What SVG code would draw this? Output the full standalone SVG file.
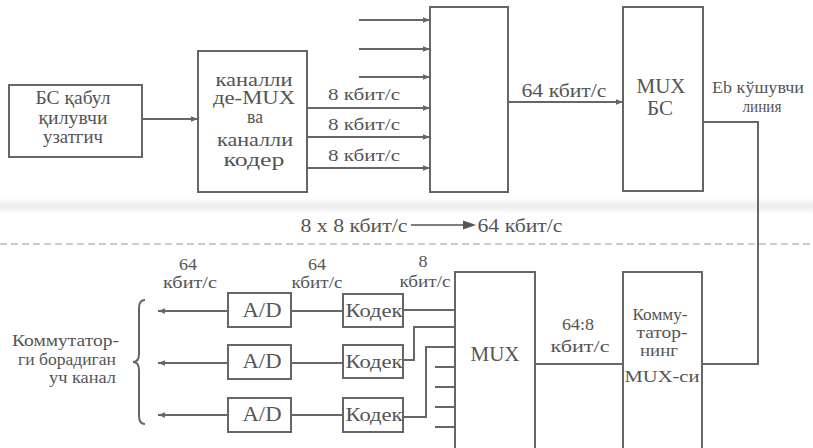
<svg xmlns="http://www.w3.org/2000/svg" width="813" height="448" viewBox="0 0 813 448">
<defs>
<marker id="ah" viewBox="0 0 10 10" refX="10" refY="5" markerWidth="7" markerHeight="7" markerUnits="userSpaceOnUse" orient="auto"><path d="M0,1 L10,5 L0,9 z" fill="#666"/></marker>
<linearGradient id="band" x1="0" y1="0" x2="0" y2="1"><stop offset="0" stop-color="#fff"/><stop offset="0.5" stop-color="#ececec"/><stop offset="1" stop-color="#fff"/></linearGradient>
</defs>
<style>
.b{fill:#fff;stroke:#666;stroke-width:2}
.l{fill:none;stroke:#666;stroke-width:2}
.a{fill:none;stroke:#666;stroke-width:2;marker-end:url(#ah)}
</style>
<rect x="0" y="0" width="813" height="448" fill="#fff"/>
<rect x="0" y="198" width="813" height="16" fill="url(#band)"/>
<line x1="0" y1="244" x2="813" y2="244" stroke="#999" stroke-width="1.2" stroke-dasharray="7,4"/>
<g id="connectors">
<line class="a" x1="142" y1="119" x2="198" y2="119"/>
<line class="a" x1="359" y1="20" x2="430" y2="20"/>
<line class="a" x1="359" y1="49" x2="430" y2="49"/>
<line class="a" x1="359" y1="77" x2="430" y2="77"/>
<line class="a" x1="307" y1="108" x2="430" y2="108"/>
<line class="a" x1="307" y1="137" x2="430" y2="137"/>
<line class="a" x1="307" y1="168" x2="430" y2="168"/>
<line class="a" x1="508" y1="102" x2="623" y2="102"/>
<polyline class="l" points="703,122 758,122 758,364 702,364"/>
<line class="l" x1="535" y1="364" x2="623" y2="364"/>
<line class="a" x1="228" y1="311" x2="158" y2="311"/>
<line class="a" x1="228" y1="363" x2="158" y2="363"/>
<line class="a" x1="228" y1="415" x2="158" y2="415"/>
<line class="l" x1="291" y1="311" x2="343" y2="311"/>
<line class="l" x1="291" y1="363" x2="343" y2="363"/>
<line class="l" x1="291" y1="415" x2="343" y2="415"/>
<line class="l" x1="403" y1="310" x2="455" y2="310"/>
<polyline class="l" points="403,360 414,360 414,327 455,327"/>
<polyline class="l" points="403,417 426,417 426,347 455,347"/>
<line class="l" x1="435" y1="367" x2="455" y2="367"/>
<line class="l" x1="435" y1="387" x2="455" y2="387"/>
<line class="l" x1="435" y1="407" x2="455" y2="407"/>
<line class="l" x1="435" y1="427" x2="455" y2="427"/>
<path class="l" stroke-width="1.5" d="M145,300 Q139,300 139,308 L139,354 Q139,362 133,362 Q139,362 139,370 L139,416 Q139,424 145,424"/>
<line x1="411" y1="225" x2="466" y2="225" stroke="#555" stroke-width="1.5"/>
<path d="M476,225 L463,220.5 L463,229.5 z" fill="#555"/>
</g>
<g font-family="Liberation Serif" fill="#555" text-anchor="middle">
<g id="bs">
<rect class="b" x="9" y="85" width="133" height="72"/>
<text font-size="19" x="73" y="104" textLength="75" lengthAdjust="spacingAndGlyphs">БС қабул</text>
<text font-size="19" x="73" y="124" textLength="69" lengthAdjust="spacingAndGlyphs">қилувчи</text>
<text font-size="19" x="73" y="143" textLength="60" lengthAdjust="spacingAndGlyphs">узатгич</text>
</g>
<g id="demux">
<rect class="b" x="198" y="51" width="109" height="141"/>
<text font-size="18" x="254" y="86" textLength="77" lengthAdjust="spacingAndGlyphs">каналли</text>
<text font-size="19" x="254" y="104" textLength="82" lengthAdjust="spacingAndGlyphs">де-MUX</text>
<text font-size="18" x="255" y="123" textLength="16" lengthAdjust="spacingAndGlyphs">ва</text>
<text font-size="18" x="255" y="146" textLength="76" lengthAdjust="spacingAndGlyphs">каналли</text>
<text font-size="18" x="254" y="166" textLength="61" lengthAdjust="spacingAndGlyphs">кодер</text>
</g>
<g id="mid">
<rect class="b" x="430" y="7" width="78" height="185"/>
</g>
<g id="muxbs">
<rect class="b" x="623" y="7" width="80" height="184"/>
<text font-size="20" x="661" y="93" textLength="49" lengthAdjust="spacingAndGlyphs">MUX</text>
<text font-size="20" x="660" y="115" textLength="26" lengthAdjust="spacingAndGlyphs">БС</text>
</g>
<g id="mux">
<rect class="b" x="455" y="272" width="80" height="180"/>
<text font-size="20" x="495" y="361" textLength="49" lengthAdjust="spacingAndGlyphs">MUX</text>
</g>
<g id="kmux">
<rect class="b" x="623" y="272" width="79" height="180"/>
<text font-size="17" x="660" y="320" textLength="55" lengthAdjust="spacingAndGlyphs">Комму-</text>
<text font-size="17" x="662" y="338" textLength="51" lengthAdjust="spacingAndGlyphs">татор-</text>
<text font-size="17" x="659" y="356" textLength="38" lengthAdjust="spacingAndGlyphs">нинг</text>
<text font-size="17" x="662" y="382" textLength="75" lengthAdjust="spacingAndGlyphs">MUX-си</text>
</g>
<g id="ad1"><rect class="b" x="228" y="293" width="63" height="34"/><text font-size="20" x="262" y="317" textLength="39" lengthAdjust="spacingAndGlyphs">A/D</text></g>
<g id="ad2"><rect class="b" x="228" y="345" width="63" height="34"/><text font-size="20" x="262" y="368" textLength="39" lengthAdjust="spacingAndGlyphs">A/D</text></g>
<g id="ad3"><rect class="b" x="228" y="398" width="63" height="34"/><text font-size="20" x="262" y="421" textLength="39" lengthAdjust="spacingAndGlyphs">A/D</text></g>
<g id="c1"><rect class="b" x="343" y="294" width="60" height="33"/><text font-size="19" x="374" y="317" textLength="57" lengthAdjust="spacingAndGlyphs">Кодек</text></g>
<g id="c2"><rect class="b" x="343" y="345" width="60" height="33"/><text font-size="19" x="374" y="368" textLength="57" lengthAdjust="spacingAndGlyphs">Кодек</text></g>
<g id="c3"><rect class="b" x="343" y="398" width="60" height="34"/><text font-size="19" x="374" y="421" textLength="57" lengthAdjust="spacingAndGlyphs">Кодек</text></g>
<g id="labels">
<text font-size="17" x="364" y="100" textLength="72" lengthAdjust="spacingAndGlyphs">8 кбит/с</text>
<text font-size="17" x="364" y="130" textLength="72" lengthAdjust="spacingAndGlyphs">8 кбит/с</text>
<text font-size="17" x="364" y="161" textLength="72" lengthAdjust="spacingAndGlyphs">8 кбит/с</text>
<text font-size="19" x="564" y="97" textLength="85" lengthAdjust="spacingAndGlyphs">64 кбит/с</text>
<text font-size="16" x="758" y="93" textLength="92" lengthAdjust="spacingAndGlyphs">Eb кўшувчи</text>
<text font-size="16" x="762" y="112" textLength="39" lengthAdjust="spacingAndGlyphs">линия</text>
<text font-size="19" x="354" y="232" textLength="107" lengthAdjust="spacingAndGlyphs">8 x 8 кбит/с</text>
<text font-size="19" x="520" y="232" textLength="85" lengthAdjust="spacingAndGlyphs">64 кбит/с</text>
<text font-size="17" x="188" y="270" textLength="18" lengthAdjust="spacingAndGlyphs">64</text>
<text font-size="17" x="190" y="288" textLength="54" lengthAdjust="spacingAndGlyphs">кбит/с</text>
<text font-size="17" x="317" y="270" textLength="18" lengthAdjust="spacingAndGlyphs">64</text>
<text font-size="17" x="317" y="288" textLength="51" lengthAdjust="spacingAndGlyphs">кбит/с</text>
<text font-size="17" x="423" y="267" textLength="9" lengthAdjust="spacingAndGlyphs">8</text>
<text font-size="17" x="425" y="287" textLength="51" lengthAdjust="spacingAndGlyphs">кбит/с</text>
<text font-size="17" x="578" y="330" textLength="32" lengthAdjust="spacingAndGlyphs">64:8</text>
<text font-size="17" x="580" y="352" textLength="59" lengthAdjust="spacingAndGlyphs">кбит/с</text>
<text font-size="17" text-anchor="end" x="119" y="346" textLength="107" lengthAdjust="spacingAndGlyphs">Коммутатор-</text>
<text font-size="17" text-anchor="end" x="116" y="365" textLength="98" lengthAdjust="spacingAndGlyphs">ги борадиган</text>
<text font-size="17" text-anchor="end" x="116" y="383" textLength="67" lengthAdjust="spacingAndGlyphs">уч канал</text>
</g>
</g>
</svg>
